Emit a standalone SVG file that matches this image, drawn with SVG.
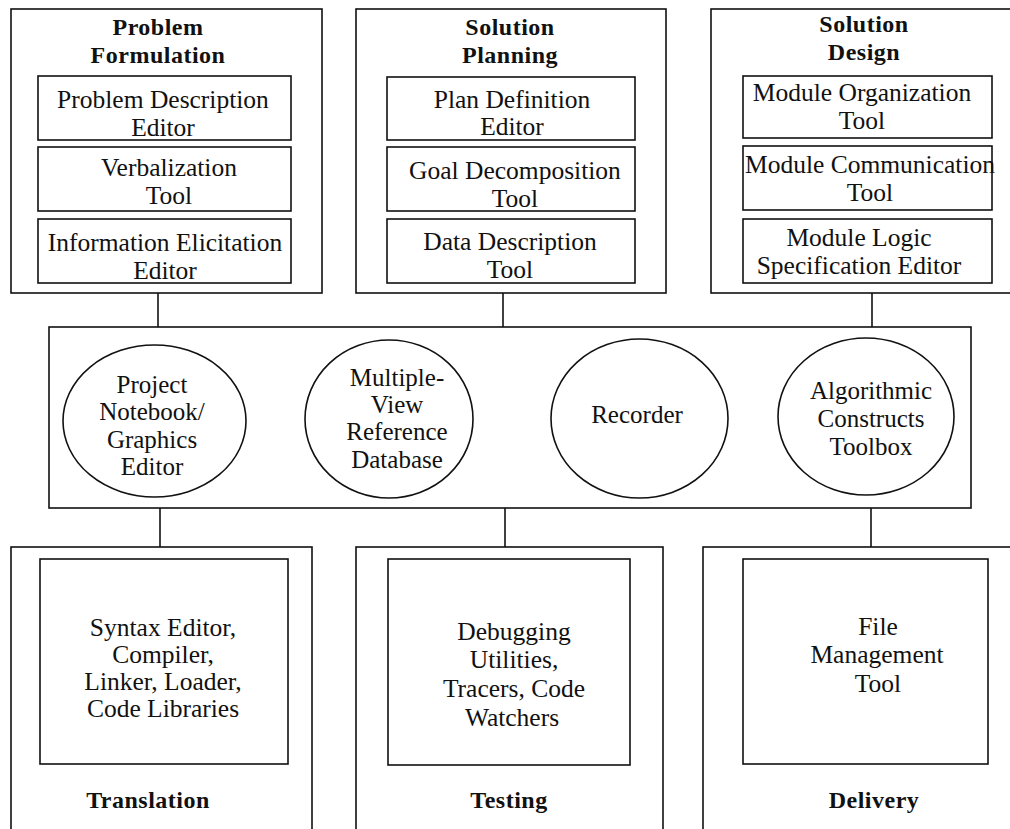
<svg xmlns="http://www.w3.org/2000/svg" width="1010" height="829" viewBox="0 0 1010 829">
<style>
.box{fill:none;stroke:#111;stroke-width:1.6}
.ln{stroke:#111;stroke-width:1.6}
.t{font-family:"Liberation Serif","Times New Roman",serif;font-size:25.5px;fill:#111;text-anchor:middle}
.e{font-family:"Liberation Serif","Times New Roman",serif;font-size:25px;fill:#111;text-anchor:middle}
.h{font-family:"Liberation Serif","Times New Roman",serif;font-size:24px;font-weight:bold;fill:#111;text-anchor:middle;letter-spacing:0.5px}
</style>
<rect width="1010" height="829" fill="#fff"/>
<g id="connectors">
<line class="ln" x1="158" y1="293" x2="158" y2="327"/>
<line class="ln" x1="503" y1="293" x2="503" y2="327"/>
<line class="ln" x1="872" y1="293" x2="872" y2="327"/>
<line class="ln" x1="160" y1="508" x2="160" y2="547"/>
<line class="ln" x1="505" y1="508" x2="505" y2="547"/>
<line class="ln" x1="871" y1="508" x2="871" y2="547"/>
</g>
<g id="problem-formulation">
<rect class="box" x="11" y="9" width="311" height="284"/>
<text class="h" x="158" y="35">Problem</text>
<text class="h" x="158" y="63">Formulation</text>
<rect class="box" x="38" y="76" width="253" height="64"/>
<text class="t" x="163" y="108">Problem Description</text>
<text class="t" x="163" y="136">Editor</text>
<rect class="box" x="38" y="147" width="253" height="64"/>
<text class="t" x="169" y="176">Verbalization</text>
<text class="t" x="169" y="204">Tool</text>
<rect class="box" x="38" y="219" width="253" height="64"/>
<text class="t" x="165" y="251">Information Elicitation</text>
<text class="t" x="165" y="279">Editor</text>
</g>
<g id="solution-planning">
<rect class="box" x="356" y="9" width="310" height="284"/>
<text class="h" x="510" y="35">Solution</text>
<text class="h" x="510" y="63">Planning</text>
<rect class="box" x="387" y="77" width="248" height="63"/>
<text class="t" x="512" y="108">Plan Definition</text>
<text class="t" x="512" y="135">Editor</text>
<rect class="box" x="387" y="147" width="248" height="64"/>
<text class="t" x="515" y="179">Goal Decomposition</text>
<text class="t" x="515" y="207">Tool</text>
<rect class="box" x="387" y="219" width="248" height="64"/>
<text class="t" x="510" y="250">Data Description</text>
<text class="t" x="510" y="278">Tool</text>
</g>
<g id="solution-design">
<rect class="box" x="711" y="9" width="310" height="284"/>
<text class="h" x="864" y="32">Solution</text>
<text class="h" x="864" y="60">Design</text>
<rect class="box" x="743" y="76" width="249" height="62"/>
<text class="t" x="862" y="101">Module Organization</text>
<text class="t" x="862" y="129">Tool</text>
<rect class="box" x="743" y="146" width="249" height="64"/>
<text class="t" x="870" y="173">Module Communication</text>
<text class="t" x="870" y="201">Tool</text>
<rect class="box" x="743" y="219" width="249" height="64"/>
<text class="t" x="859" y="246">Module Logic</text>
<text class="t" x="859" y="274">Specification Editor</text>
</g>
<g id="shared-tools">
<rect class="box" x="49" y="327" width="922" height="181"/>
</g>
<g id="project-notebook">
<ellipse class="box" cx="154.5" cy="421" rx="91.5" ry="76"/>
<text class="e" x="152" y="393">Project</text>
<text class="e" x="152" y="420">Notebook/</text>
<text class="e" x="152" y="448">Graphics</text>
<text class="e" x="152" y="475">Editor</text>
</g>
<g id="reference-database">
<ellipse class="box" cx="389" cy="419" rx="84" ry="79"/>
<text class="e" x="397" y="386">Multiple-</text>
<text class="e" x="397" y="413">View</text>
<text class="e" x="397" y="440">Reference</text>
<text class="e" x="397" y="468">Database</text>
</g>
<g id="recorder">
<ellipse class="box" cx="639.5" cy="418.5" rx="88.5" ry="79.5"/>
<text class="e" x="637" y="423">Recorder</text>
</g>
<g id="algorithmic-toolbox">
<ellipse class="box" cx="866" cy="416.5" rx="88" ry="78.5"/>
<text class="e" x="871" y="399">Algorithmic</text>
<text class="e" x="871" y="427">Constructs</text>
<text class="e" x="871" y="455">Toolbox</text>
</g>
<g id="translation">
<rect class="box" x="11" y="547" width="301" height="300"/>
<rect class="box" x="40" y="559" width="248" height="205"/>
<text class="t" x="163" y="636">Syntax Editor,</text>
<text class="t" x="163" y="663">Compiler,</text>
<text class="t" x="163" y="690">Linker, Loader,</text>
<text class="t" x="163" y="717">Code Libraries</text>
<text class="h" x="148" y="808">Translation</text>
</g>
<g id="testing">
<rect class="box" x="356" y="547" width="307" height="300"/>
<rect class="box" x="388" y="559" width="242" height="206"/>
<text class="t" x="514" y="640">Debugging</text>
<text class="t" x="514" y="668">Utilities,</text>
<text class="t" x="514" y="697">Tracers, Code</text>
<text class="t" x="512" y="726">Watchers</text>
<text class="h" x="509" y="808">Testing</text>
</g>
<g id="delivery">
<rect class="box" x="703" y="547" width="320" height="300"/>
<rect class="box" x="743" y="559" width="245" height="205"/>
<text class="t" x="878" y="635">File</text>
<text class="t" x="877" y="663">Management</text>
<text class="t" x="878" y="692">Tool</text>
<text class="h" x="874" y="808">Delivery</text>
</g>
</svg>
